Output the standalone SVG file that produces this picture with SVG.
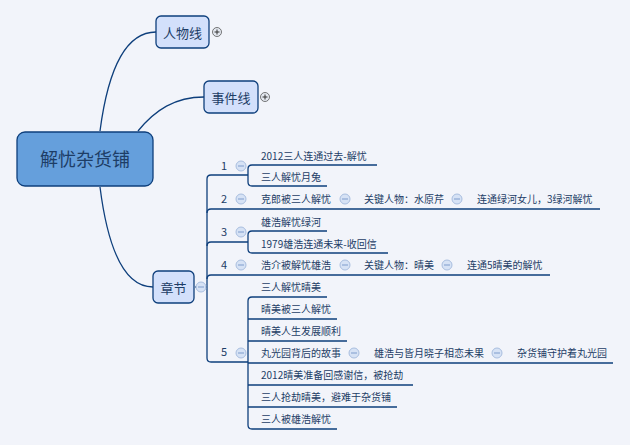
<svg xmlns="http://www.w3.org/2000/svg" width="630" height="445" viewBox="0 0 630 445">
<style>
text{font-family:"Noto Sans CJK SC","Noto Sans",sans-serif;fill:#1d3d66}
.t{font-size:10px}
.l{fill:none;stroke:#0e3f7c;stroke-width:1.3}
.m{fill:#d6e2f5;stroke:#a9bedf;stroke-width:1}
.mb{stroke:#7f9ccc;stroke-width:1}
.box{fill:#d3e0fb;stroke:#0e3f7c;stroke-width:1.3}
</style>
<rect width="630" height="445" fill="#f2f4fa"/>
<defs>
<g id="minus"><circle r="5" class="m"/><line x1="-3" x2="3" class="mb"/></g>
<g id="plus"><circle r="4.5" fill="#e4e8f0" stroke="#555" stroke-width="0.8"/><line x1="-2.5" x2="2.5" stroke="#333"/><line y1="-2.5" y2="2.5" stroke="#333"/></g>
</defs>
<g id="connectors">
<path class="l" d="M100,131 C108,70 125,32 156,32"/>
<path class="l" d="M138,131 C155,110 175,97 204,97"/>
<path class="l" d="M100,187 C108,250 125,287 153,287"/>
<path class="l" d="M195,287 H207"/>
<path class="l" d="M248,175 H211 Q207,175 207,179 V358 Q207,362 211,362 H248"/>
<path class="l" d="M207,213 Q207,209 211,209 H600"/>
<path class="l" d="M207,246 Q207,242 211,242 H248"/>
<path class="l" d="M207,279 Q207,275 211,275 H550"/>
<path class="l" d="M377,165 H252 Q248,165 248,169 V182 Q248,186 252,186 H327"/>
<path class="l" d="M327,231 H252 Q248,231 248,235 V249 Q248,253 252,253 H388"/>
<path class="l" d="M327,297 H252 Q248,297 248,301 V425 Q248,429 252,429 H337"/>
<path class="l" d="M248,319 H337 M248,341 H347 M248,363 H613 M248,385 H413 M248,407 H397"/>
</g>
<g id="root"><rect x="17" y="132" width="136" height="54" rx="8" fill="#659fdc" stroke="#0e3f7c" stroke-width="1.3"/><text x="85" y="166" font-size="18" text-anchor="middle">解忧杂货铺</text></g>
<g id="renwu"><rect x="156" y="16" width="53" height="32" rx="5" class="box"/><text x="182.5" y="38" font-size="13" text-anchor="middle">人物线</text><use href="#plus" x="217" y="32"/></g>
<g id="shijian"><rect x="204" y="81" width="54" height="32" rx="5" class="box"/><text x="231" y="103" font-size="13" text-anchor="middle">事件线</text><use href="#plus" x="265" y="97"/></g>
<g id="zhangjie"><rect x="153" y="271" width="41" height="32" rx="5" class="box"/><text x="173.5" y="293" font-size="13" text-anchor="middle">章节</text><use href="#minus" x="201" y="287"/></g>
<g id="ch1"><text x="221" y="170" font-size="11">1</text><use href="#minus" x="241" y="166"/>
<text x="261" y="160" class="t">2012三人连通过去-解忧</text><text x="261" y="181" class="t">三人解忧月兔</text></g>
<g id="ch2"><text x="221" y="203" font-size="11">2</text><use href="#minus" x="241" y="199"/><text x="261" y="203" class="t">克郎被三人解忧</text><use href="#minus" x="345" y="199"/><text x="364" y="203" class="t">关键人物：水原芹</text><use href="#minus" x="457" y="199"/><text x="477" y="203" class="t">连通绿河女儿，3绿河解忧</text></g>
<g id="ch3"><text x="221" y="236" font-size="11">3</text><use href="#minus" x="241" y="232"/><text x="261" y="226" class="t">雄浩解忧绿河</text><text x="261" y="248" class="t">1979雄浩连通未来-收回信</text></g>
<g id="ch4"><text x="221" y="269" font-size="11">4</text><use href="#minus" x="241" y="265"/><text x="261" y="269" class="t">浩介被解忧雄浩</text><use href="#minus" x="345" y="265"/><text x="364" y="269" class="t">关键人物：晴美</text><use href="#minus" x="447" y="265"/><text x="467" y="269" class="t">连通5晴美的解忧</text></g>
<g id="ch5"><text x="221" y="356" font-size="11">5</text><use href="#minus" x="241" y="353"/>
<text x="261" y="291" class="t">三人解忧晴美</text><text x="261" y="313" class="t">晴美被三人解忧</text><text x="261" y="335" class="t">晴美人生发展顺利</text>
<text x="261" y="357" class="t">丸光园背后的故事</text><use href="#minus" x="354" y="353"/><text x="374" y="357" class="t">雄浩与皆月晓子相恋未果</text><use href="#minus" x="497" y="353"/><text x="517" y="357" class="t">杂货铺守护着丸光园</text>
<text x="261" y="379" class="t">2012晴美准备回感谢信，被抢劫</text><text x="261" y="401" class="t">三人抢劫晴美，避难于杂货铺</text><text x="261" y="423" class="t">三人被雄浩解忧</text></g>
</svg>
